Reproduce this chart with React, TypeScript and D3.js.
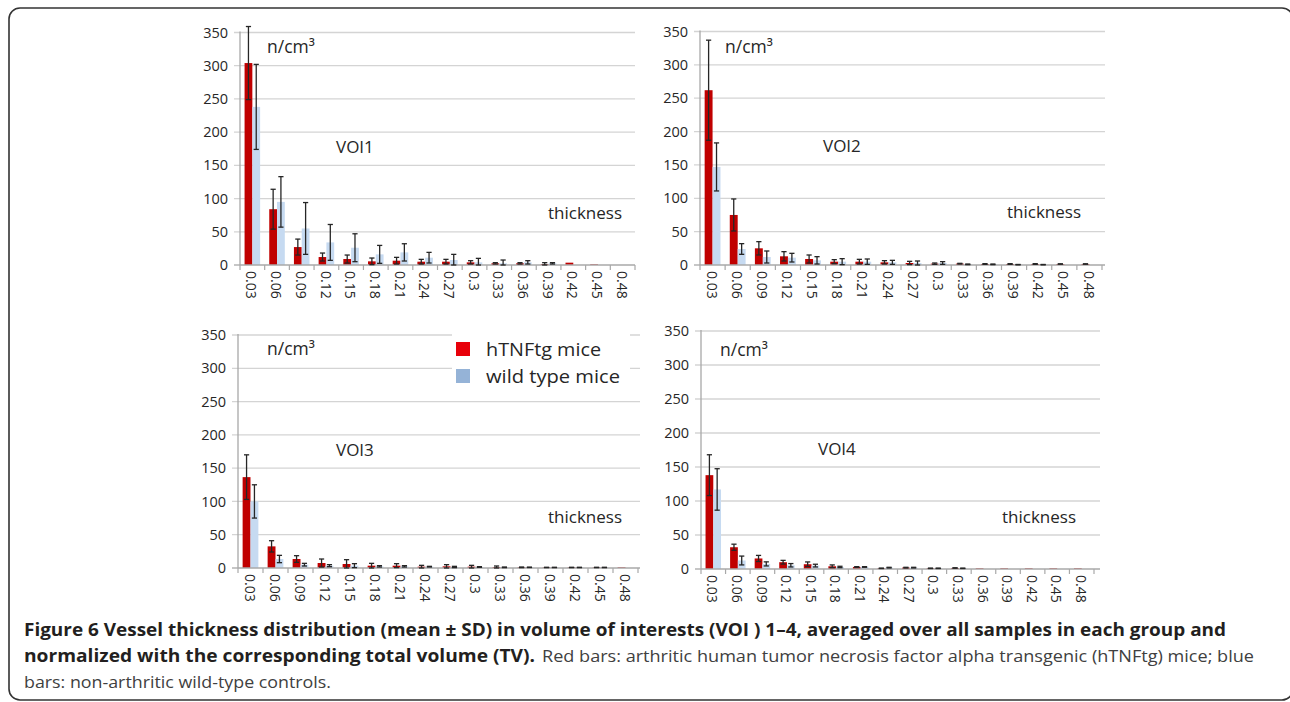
import * as d3 from "d3";

const thickness = ["0.03", "0.06", "0.09", "0.12", "0.15", "0.18", "0.21", "0.24", "0.27", "0.3", "0.33", "0.36", "0.39", "0.42", "0.45", "0.48"];
const yTicks = [0, 50, 100, 150, 200, 250, 300, 350];

// mean and SD per thickness class, n/cm³
const voi1Tg = [304, 84, 27, 12, 9, 5.5, 6.5, 5, 5, 4, 2.5, 2.5, 1.5, 3.5, 1, 0];
const voi1TgSd = [55, 30, 12, 6, 6, 5, 5, 3.5, 3.5, 2.5, 1, 1, 2, 0, 0, 0];
const voi1Wt = [238, 95, 55, 34, 26, 16, 19, 11, 7.5, 4, 2.5, 4, 2.5, 0, 0, 0];
const voi1WtSd = [64, 38, 39, 27, 21, 13.5, 13, 8, 8.5, 6, 5, 2.5, 1, 0, 0, 0];

const voi2Tg = [262, 75, 25, 13, 9, 5, 5, 4, 3, 2, 2, 1.5, 1.5, 1.5, 1.5, 1.5];
const voi2TgSd = [75, 24, 10, 7, 6, 3, 3.5, 2.5, 2.5, 1, 0.5, 0.5, 0.5, 0.5, 0.3, 0.3];
const voi2Wt = [147, 24, 12, 11, 7, 5, 5, 4, 3, 3, 1, 1, 0.5, 0.5, 0, 0];
const voi2WtSd = [36, 8, 9, 6.5, 5.5, 4.5, 4, 3, 3, 2, 0.5, 0.5, 0.3, 0.3, 0, 0];

const voi3Tg = [136.5, 32.5, 13.5, 7.5, 6, 3.5, 3.5, 2, 2.5, 2, 1.5, 1, 0.8, 0.8, 0.8, 1];
const voi3TgSd = [33.5, 8.5, 5, 6, 6.5, 3.5, 3, 2, 2.5, 2, 1.5, 0.5, 0.3, 0.3, 0.3, 0];
const voi3Wt = [100, 13.5, 5, 3.5, 3.5, 2.5, 2.5, 2, 1.5, 1.5, 1, 1, 0.8, 0.8, 0.8, 0];
const voi3WtSd = [25, 5.5, 2, 1.5, 3, 1, 1, 0.5, 1, 0.5, 0.5, 0.3, 0.3, 0.3, 0.3, 0];

const voi4Tg = [138, 32, 15.5, 10, 7, 4, 3, 1, 2, 1, 1.5, 1, 1, 1, 1, 1];
const voi4TgSd = [30, 4.5, 4.5, 2.7, 3.4, 2, 0.5, 0.3, 0.5, 0.3, 0.3, 0, 0, 0, 0, 0];
const voi4Wt = [117, 12.5, 7.5, 5.5, 5, 3, 3, 2, 2, 1, 1, 0, 0, 0, 0, 0];
const voi4WtSd = [30.5, 6.5, 3, 2.5, 2, 1, 0.5, 0.5, 0.5, 0.3, 0.3, 0, 0, 0, 0, 0];

const RED = "#c00000";
const BLUE = "#c6daf1";
const GRID = "#d4d4d4";
const AXIS = "#a8a8a8";
const INK = "#262626";
const FONT = "'Open Sans', 'DejaVu Sans', sans-serif";

type Panel = {
  name: string;
  tg: number[];
  tgSd: number[];
  wt: number[];
  wtSd: number[];
  left: number;
  right: number;
  gridRight: number;
  base: number;
  top: number;
  unitPos: [number, number];
  namePos: [number, number];
  thickPos: [number, number];
};

const panels: Panel[] = [
  { name: "VOI1", tg: voi1Tg, tgSd: voi1TgSd, wt: voi1Wt, wtSd: voi1WtSd, left: 240, right: 635, gridRight: 635, base: 265, top: 32.5, unitPos: [267, 53], namePos: [336, 153], thickPos: [548, 219] },
  { name: "VOI2", tg: voi2Tg, tgSd: voi2TgSd, wt: voi2Wt, wtSd: voi2WtSd, left: 700, right: 1102, gridRight: 1105, base: 265, top: 31.5, unitPos: [725, 53], namePos: [823, 152], thickPos: [1007, 218] },
  { name: "VOI3", tg: voi3Tg, tgSd: voi3TgSd, wt: voi3Wt, wtSd: voi3WtSd, left: 238, right: 638, gridRight: 640, base: 568, top: 335, unitPos: [267, 355], namePos: [336, 456], thickPos: [548, 523] },
  { name: "VOI4", tg: voi4Tg, tgSd: voi4TgSd, wt: voi4Wt, wtSd: voi4WtSd, left: 701, right: 1094, gridRight: 1100, base: 569, top: 331, unitPos: [720, 356], namePos: [818, 455], thickPos: [1002, 523] },
];

function ErrorBar({ cx, lo, hi }: { cx: number; lo: number; hi: number }) {
  return (
    <g stroke={INK} strokeWidth={1.3}>
      <line x1={cx} x2={cx} y1={hi} y2={lo} />
      <line x1={cx - 2.6} x2={cx + 2.6} y1={hi} y2={hi} />
      <line x1={cx - 2.6} x2={cx + 2.6} y1={lo} y2={lo} />
    </g>
  );
}

function BarPanel({ p }: { p: Panel }) {
  const x = d3.scaleBand<string>().domain(thickness).range([p.left, p.right]).paddingInner(0.37).paddingOuter(0.185);
  const sub = d3.scaleBand<string>().domain(["tg", "wt"]).range([0, x.bandwidth()]);
  const y = d3.scaleLinear().domain([0, 350]).range([p.base, p.top]);
  const half = (x.step() - x.bandwidth()) / 2;
  const bounds = thickness.map((c) => (x(c) ?? 0) - half).concat([p.right]);

  const series = [
    { key: "tg", mean: p.tg, sd: p.tgSd, color: RED },
    { key: "wt", mean: p.wt, sd: p.wtSd, color: BLUE },
  ];

  return (
    <g fontFamily={FONT}>
      {yTicks.map((t) => (
        <g key={t}>
          <line x1={p.left - 6} x2={t === 0 ? p.left : p.gridRight} y1={y(t)} y2={y(t)} stroke={t === 0 ? AXIS : GRID} strokeWidth={1.3} />
          <text x={p.left - 12} y={y(t)} dy="0.35em" textAnchor="end" fontSize={14.5} fill={INK}>
            {t}
          </text>
        </g>
      ))}
      <line x1={p.left} x2={p.left} y1={p.top - 1} y2={p.base} stroke={AXIS} strokeWidth={1.3} />

      {series.map((s) =>
        thickness.map((c, i) => {
          const x0 = (x(c) ?? 0) + (sub(s.key) ?? 0);
          const w = sub.bandwidth();
          return <rect key={s.key + c} x={x0} y={y(s.mean[i])} width={w} height={p.base - y(s.mean[i])} fill={s.color} />;
        })
      )}

      <line x1={p.left} x2={p.gridRight} y1={p.base} y2={p.base} stroke={AXIS} strokeWidth={1.3} />
      {bounds.map((b, i) => (
        <line key={i} x1={b} x2={b} y1={p.base} y2={p.base + 5} stroke={AXIS} strokeWidth={1.2} />
      ))}

      {series.map((s) =>
        thickness.map((c, i) => {
          if (s.sd[i] <= 0) return null;
          const cx = (x(c) ?? 0) + (sub(s.key) ?? 0) + sub.bandwidth() / 2;
          return <ErrorBar key={"e" + s.key + c} cx={cx} hi={y(s.mean[i] + s.sd[i])} lo={y(Math.max(0, s.mean[i] - s.sd[i]))} />;
        })
      )}

      {thickness.map((c) => {
        const cx = (x(c) ?? 0) + x.bandwidth() / 2;
        return (
          <text key={"l" + c} transform={`translate(${cx - 1},${p.base + 6}) rotate(90)`} dy="0.35em" fontSize={14} fill={INK}>
            {c}
          </text>
        );
      })}

      <text x={p.unitPos[0]} y={p.unitPos[1]} fontSize={17.5} fill={INK}>
        n/cm³
      </text>
      <text x={p.namePos[0]} y={p.namePos[1]} fontSize={17} fill={INK}>
        {p.name}
      </text>
      <text x={p.thickPos[0]} y={p.thickPos[1]} fontSize={17} fill={INK} textLength={74} lengthAdjust="spacingAndGlyphs">
        thickness
      </text>
    </g>
  );
}

export default function App() {
  return (
    <svg width={1290} height={702} style={{ position: "absolute", left: 0, top: 0, background: "#fff" }}>
      <rect x={9} y={8} width={1284} height={692} rx={11} fill="#fff" stroke="#333" strokeWidth={1.6} />
      {panels.map((p) => (
        <BarPanel key={p.name} p={p} />
      ))}

      <g fontFamily={FONT}>
        <rect x={452} y={333} width={178} height={56} fill="#fff" />
        <rect x={456} y={342} width={14} height={14} fill="#e8000a" />
        <rect x={456} y={369} width={14} height={14} fill="#95b3d7" />
        <text x={486} y={356} fontSize={18.5} fill={INK} textLength={115} lengthAdjust="spacingAndGlyphs">
          hTNFtg mice
        </text>
        <text x={486} y={383} fontSize={18.5} fill={INK} textLength={134} lengthAdjust="spacingAndGlyphs">
          wild type mice
        </text>
      </g>

      <g fontFamily={FONT} fontSize={17} fill="#231f20">
        <text x={24} y={636} fontWeight="bold" textLength={1202} lengthAdjust="spacingAndGlyphs">
          Figure 6 Vessel thickness distribution (mean ± SD) in volume of interests (VOI ) 1–4, averaged over all samples in each group and
        </text>
        <text x={24} y={662} fontWeight="bold" textLength={511} lengthAdjust="spacingAndGlyphs">
          normalized with the corresponding total volume (TV).
        </text>
        <text x={542} y={662} fill="#404040" textLength={712} lengthAdjust="spacingAndGlyphs">
          Red bars: arthritic human tumor necrosis factor alpha transgenic (hTNFtg) mice; blue
        </text>
        <text x={24} y={688} fill="#404040" textLength={307} lengthAdjust="spacingAndGlyphs">
          bars: non-arthritic wild-type controls.
        </text>
      </g>
    </svg>
  );
}
